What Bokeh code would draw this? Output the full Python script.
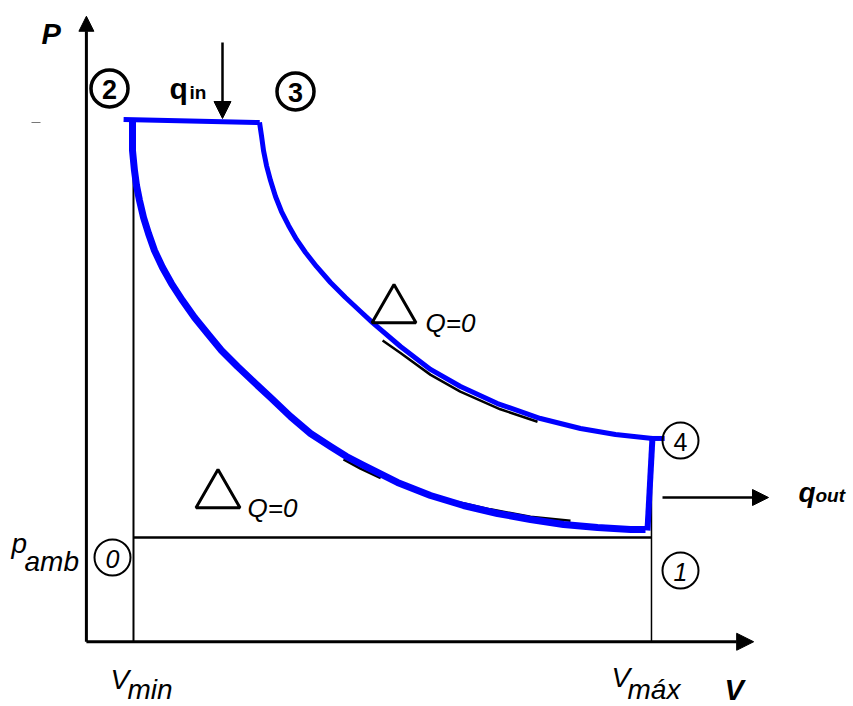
from bokeh.plotting import figure
from bokeh.models import Range1d, Arrow, NormalHead
from bokeh.embed import file_html
from bokeh.resources import INLINE
from bokeh.core.properties import value

# ---------------- data (V, P in arbitrary units) ----------------
V_MIN = 1.0
V_MAX = 12.0
P_AMB = 1.0
V_AXIS_END = 14.17
P_AXIS_END = 6.0

# 2 -> 3 : heat addition at constant pressure
heat_in_V = [0.79, 3.68]
heat_in_P = [5.01, 4.98]

# 3 -> 4 : adiabatic expansion
expansion_V = [3.676, 3.718, 3.761, 3.825, 3.910, 4.016, 4.143, 4.292, 4.462, 4.653,
               4.886, 5.184, 5.502, 5.821, 6.076, 6.670, 7.307, 7.944, 8.730, 9.643,
               10.493, 11.236, 12.022]
expansion_P = [4.981, 4.856, 4.712, 4.568, 4.424, 4.271, 4.127, 3.993, 3.859, 3.734,
               3.600, 3.446, 3.302, 3.168, 3.062, 2.832, 2.612, 2.448, 2.285, 2.141,
               2.046, 1.988, 1.950]

# 4 -> 1 : heat rejection at constant volume
rejection_V = [12.02, 11.915]
rejection_P = [1.95, 1.067]

# connector to point 4 marker
connector_V = [11.98, 12.28]
connector_P = [1.95, 1.95]

# 1 -> 2 : adiabatic compression
compression_V = [11.873, 11.555, 10.854, 10.132, 9.431, 8.730, 8.008, 7.307, 6.606, 5.885,
                 5.524, 5.184, 4.759, 4.334, 3.910, 3.591, 3.209, 2.869, 2.572, 2.296,
                 2.041, 1.807, 1.616, 1.446, 1.319, 1.213, 1.128, 1.064, 1.021, 0.979,
                 0.979]
compression_P = [1.077, 1.077, 1.096, 1.125, 1.173, 1.230, 1.307, 1.403, 1.528, 1.691,
                 1.777, 1.873, 1.998, 2.161, 2.343, 2.477, 2.640, 2.794, 2.957, 3.110,
                 3.273, 3.436, 3.590, 3.753, 3.916, 4.070, 4.233, 4.376, 4.520, 4.712,
                 4.990]

# hand-drawn pencil strokes underneath the blue curves
sketch1_V = [6.29, 6.67, 7.31, 7.94, 8.79, 9.58]
sketch1_P = [2.89, 2.77, 2.56, 2.40, 2.23, 2.11]
sketch2_V = [5.46, 5.82, 6.25]
sketch2_P = [1.75, 1.66, 1.57]
sketch3_V = [7.88, 8.58, 9.43, 10.28]
sketch3_P = [1.34, 1.27, 1.20, 1.16]

# ---------------- layout ----------------
W, H = 853, 706
OX, SX = 85.9, 47.09      # page px of V=0, px per V unit
OY, SY = 641.25, 104.25   # page px of P=0, px per P unit


def X(px):
    return (px - OX) / SX


def Y(py):
    return (OY - py) / SY


p = figure(width=W, height=H, output_backend="svg", toolbar_location=None,
           x_range=Range1d(X(0), X(W)), y_range=Range1d(Y(H), Y(0)),
           x_axis_type=None, y_axis_type=None, min_border=0,
           background_fill_color="white", border_fill_color="white")
p.grid.visible = False
p.outline_line_color = None

BLUE = "#0000ff"
FONT = value("Liberation Sans")

# axes as arrows
p.add_layout(Arrow(end=NormalHead(size=15, fill_color="black", line_color="black"),
                   x_start=0, y_start=0, x_end=0, y_end=P_AXIS_END,
                   line_width=3, line_color="black"))
p.add_layout(Arrow(end=NormalHead(size=17, fill_color="black", line_color="black"),
                   x_start=0, y_start=0, x_end=V_AXIS_END, y_end=0,
                   line_width=3, line_color="black"))

# reference lines
p.line([V_MIN, V_MIN], [0, heat_in_P[0]], line_color="black", line_width=2)
p.line([V_MAX, V_MAX], [0, 1.76], line_color="black", line_width=1.5)
p.line([V_MIN, V_MAX], [P_AMB, P_AMB], line_color="black", line_width=2.5)
p.line([X(31), X(40)], [Y(122), Y(122)], line_color="#777777", line_width=1.2)

# pencil strokes
p.line(sketch1_V, sketch1_P, line_color="black", line_width=2.5)
p.line(sketch2_V, sketch2_P, line_color="black", line_width=2.5)
p.line(sketch3_V, sketch3_P, line_color="black", line_width=2.5)

# cycle
p.line(compression_V, compression_P, line_color=BLUE, line_width=7, line_join="round")
p.line(expansion_V, expansion_P, line_color=BLUE, line_width=5, line_join="round")
p.line(heat_in_V, heat_in_P, line_color=BLUE, line_width=5)
p.line(rejection_V, rejection_P, line_color=BLUE, line_width=6)
p.line(connector_V, connector_P, line_color=BLUE, line_width=5)

# heat arrows
p.add_layout(Arrow(end=NormalHead(size=17, fill_color="black", line_color="black"),
                   x_start=X(222), y_start=Y(42), x_end=X(222), y_end=Y(118),
                   line_width=2.5, line_color="black"))
p.add_layout(Arrow(end=NormalHead(size=16, fill_color="black", line_color="black"),
                   x_start=X(662), y_start=Y(497), x_end=X(768), y_end=Y(497),
                   line_width=2.5, line_color="black"))


def label(txt, px, py, size, style="normal", align="left", baseline="alphabetic"):
    p.text(x=[X(px)], y=[Y(py)], text=[txt], text_font=FONT,
           text_font_size=f"{size}px", text_font_style=style,
           text_align=align, text_baseline=baseline, text_color="black")


# axis labels
label("P", 41, 33, 29, "bold italic")
label("V", 724, 689, 29, "bold italic")
label("V", 110, 679, 28, "italic")
label("min", 127, 689, 28, "italic")
label("V", 611, 677, 28, "italic")
label("máx", 627, 689, 28, "italic")
label("p", 11, 543, 28, "italic")
label("amb", 24, 561, 28, "italic")

# heat labels
label("q", 169, 88, 30, "bold")
label("in", 189, 92, 19, "bold")
label("q", 798, 492, 28, "bold italic")
label("out", 815, 495, 19, "bold italic")

# adiabatic labels
p.scatter([X(393.5), X(217.5)], [Y(309.5), Y(494.5)], marker="triangle", size=44,
          fill_color=None, line_color="black", line_width=3)
label("Q=0", 425, 322, 26, "italic")
label("Q=0", 247, 507, 26, "italic")

# state point markers
p.scatter([X(109), X(295)], [Y(88), Y(91)], marker="circle", size=37,
          fill_color=None, line_color="black", line_width=3.5)
p.scatter([X(680), X(680), X(112)], [Y(440), Y(570), Y(557)], marker="circle",
          size=36, fill_color=None, line_color="black", line_width=2)
label("2", 109, 89, 27, "bold", "center", "middle")
label("3", 295, 92, 27, "bold", "center", "middle")
label("4", 680, 441, 25, "normal", "center", "middle")
label("1", 680, 571, 25, "italic", "center", "middle")
label("0", 112, 558, 25, "italic", "center", "middle")

open("out.html", "w").write(file_html(p, INLINE))
